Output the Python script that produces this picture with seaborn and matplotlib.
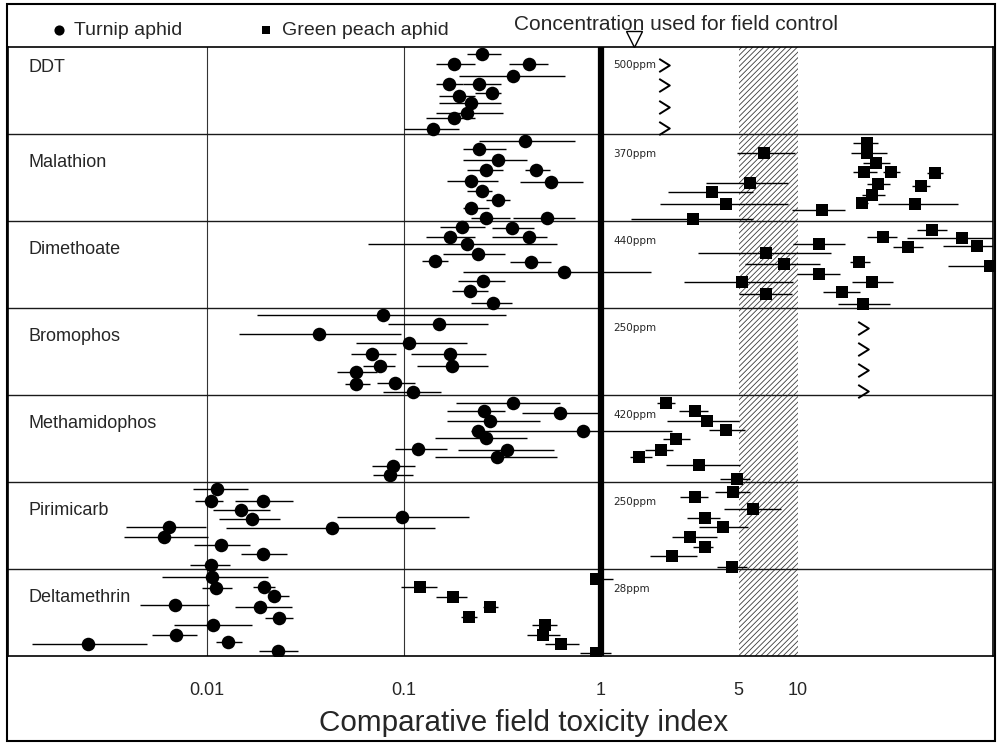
import numpy as np
import pandas as pd
import matplotlib
matplotlib.use("Agg")
import matplotlib.pyplot as plt
import matplotlib.transforms as mtransforms
from matplotlib.path import Path
from matplotlib.patches import Rectangle
import seaborn as sns

sns.set_style("white")
NARROW = ["Liberation Sans Narrow", "Liberation Sans", "DejaVu Sans"]
plt.rcParams["font.family"] = NARROW
plt.rcParams["hatch.linewidth"] = 0.6

# ---------------- data ----------------
insecticides = ["DDT", "Malathion", "Dimethoate", "Bromophos",
                "Methamidophos", "Pirimicarb", "Deltamethrin"]
concentrations = ["500ppm", "370ppm", "440ppm", "250ppm", "420ppm", "250ppm", "28ppm"]
x_ticks = [0.01, 0.1, 1, 5, 10]
x_tick_labels = ["0.01", "0.1", "1", "5", "10"]
field_control_index = 1.47
hatch_range = (5, 10)

# Turnip aphid (circles): index, lower, upper limit, row position within band (0 = top, 1 = bottom)
ddt_ta = [0.25, 0.18, 0.43, 0.36, 0.17, 0.24, 0.19, 0.28, 0.22, 0.21, 0.18, 0.14]
ddt_ta_lo = [0.21, 0.145, 0.34, 0.19, 0.145, 0.20, 0.15, 0.23, 0.15, 0.145, 0.13, 0.10]
ddt_ta_hi = [0.31, 0.23, 0.54, 0.66, 0.20, 0.31, 0.23, 0.31, 0.31, 0.32, 0.23, 0.19]
ddt_ta_row = [0.08, 0.195, 0.195, 0.33, 0.425, 0.425, 0.56, 0.53, 0.64, 0.755, 0.82, 0.94]

mal_ta = [0.41, 0.24, 0.30, 0.47, 0.26, 0.22, 0.56, 0.25, 0.30, 0.22, 0.53, 0.26]
mal_ta_lo = [0.24, 0.20, 0.20, 0.41, 0.21, 0.165, 0.39, 0.21, 0.26, 0.20, 0.36, 0.22]
mal_ta_hi = [0.74, 0.33, 0.42, 0.55, 0.32, 0.30, 0.81, 0.28, 0.345, 0.27, 0.74, 0.345]
mal_ta_row = [0.077, 0.176, 0.30, 0.414, 0.414, 0.54, 0.548, 0.652, 0.759, 0.847, 0.962, 0.962]

dim_ta = [0.198, 0.356, 0.171, 0.43, 0.21, 0.237, 0.144, 0.44, 0.65, 0.253, 0.216, 0.284]
dim_ta_lo = [0.152, 0.28, 0.13, 0.28, 0.066, 0.158, 0.123, 0.345, 0.20, 0.188, 0.175, 0.22]
dim_ta_hi = [0.258, 0.46, 0.229, 0.53, 0.60, 0.326, 0.167, 0.56, 1.8, 0.326, 0.268, 0.353]
dim_ta_row = [0.072, 0.084, 0.187, 0.18, 0.264, 0.38, 0.456, 0.475, 0.59, 0.69, 0.805, 0.946]

bro_ta = [0.078, 0.151, 0.037, 0.106, 0.069, 0.171, 0.0755, 0.175, 0.0575, 0.057, 0.090, 0.111]
bro_ta_lo = [0.018, 0.083, 0.0146, 0.057, 0.054, 0.109, 0.062, 0.116, 0.046, 0.050, 0.073, 0.0785]
bro_ta_hi = [0.33, 0.268, 0.097, 0.208, 0.091, 0.26, 0.090, 0.268, 0.073, 0.067, 0.114, 0.155]
bro_ta_row = [0.08, 0.184, 0.302, 0.406, 0.529, 0.532, 0.663, 0.663, 0.732, 0.877, 0.859, 0.962]

met_ta = [0.36, 0.62, 0.256, 0.273, 0.81, 0.237, 0.26, 0.118, 0.335, 0.296, 0.088, 0.085]
met_ta_lo = [0.185, 0.40, 0.165, 0.165, 0.27, 0.22, 0.144, 0.090, 0.188, 0.144, 0.069, 0.070]
met_ta_hi = [0.62, 0.99, 0.326, 0.49, 2.3, 0.273, 0.42, 0.165, 0.58, 0.60, 0.114, 0.111]
met_ta_row = [0.089, 0.203, 0.184, 0.295, 0.41, 0.41, 0.498, 0.62, 0.632, 0.709, 0.813, 0.92]

pir_ta = [0.0113, 0.0105, 0.0193, 0.015, 0.098, 0.017, 0.0064, 0.043, 0.0061, 0.0118, 0.0193, 0.0105]
pir_ta_lo = [0.0085, 0.0087, 0.0139, 0.0108, 0.046, 0.0116, 0.0039, 0.0125, 0.0038, 0.0086, 0.015, 0.0082]
pir_ta_hi = [0.0161, 0.0121, 0.0274, 0.0209, 0.215, 0.0235, 0.0099, 0.144, 0.0102, 0.0165, 0.0254, 0.0131]
pir_ta_row = [0.084, 0.218, 0.218, 0.322, 0.406, 0.425, 0.514, 0.525, 0.636, 0.724, 0.831, 0.954]

del_ta = [0.0106, 0.0111, 0.0195, 0.022, 0.0069, 0.0186, 0.0232, 0.0108, 0.0070, 0.0025, 0.0128, 0.0229]
del_ta_lo = [0.0059, 0.0095, 0.0172, 0.0207, 0.0046, 0.0139, 0.0197, 0.0068, 0.0053, 0.0013, 0.0111, 0.0184]
del_ta_hi = [0.0205, 0.0135, 0.0221, 0.0262, 0.0103, 0.0272, 0.0274, 0.0169, 0.0089, 0.0050, 0.0151, 0.0291]
del_ta_row = [0.095, 0.222, 0.203, 0.31, 0.414, 0.433, 0.56, 0.644, 0.759, 0.862, 0.836, 0.939]

# Green peach aphid (squares)
mal_gpa = [6.7, 22.3, 22.3, 24.8, 21.7, 29.6, 49.6, 5.7, 25.6, 42.0, 3.65, 23.8, 4.3, 21.1, 39.3, 13.3, 2.94]
mal_gpa_lo = [4.9, 19.0, 18.5, 21.4, 19.0, 27.0, 45.2, 3.4, 22.3, 37.8, 2.19, 21.1, 2.0, 19.9, 25.6, 9.3, 1.43]
mal_gpa_hi = [9.7, 25.5, 28.2, 29.3, 25.2, 33.0, 54.5, 8.9, 29.3, 46.8, 5.9, 27.7, 8.9, 22.7, 65.0, 17.3, 5.9]
mal_gpa_row = [0.222, 0.10, 0.222, 0.337, 0.44, 0.44, 0.452, 0.56, 0.575, 0.594, 0.667, 0.70, 0.805, 0.79, 0.808, 0.877, 0.977]

dim_gpa = [47.7, 27.1, 67.8, 36.3, 80.7, 12.8, 6.9, 20.4, 8.5, 94.0, 12.8, 5.2, 23.8, 16.7, 6.9, 21.5]
dim_gpa_lo = [40.0, 22.3, 35.7, 30.4, 54.5, 9.4, 3.1, 18.4, 5.4, 58.0, 9.85, 2.64, 18.7, 13.4, 5.0, 16.0]
dim_gpa_hi = [57.0, 31.7, 100, 43.1, 100, 17.3, 14.8, 23.2, 12.9, 100, 16.3, 9.4, 30.5, 20.6, 9.3, 29.3]
dim_gpa_row = [0.103, 0.18, 0.199, 0.302, 0.287, 0.264, 0.371, 0.475, 0.494, 0.517, 0.609, 0.697, 0.705, 0.813, 0.839, 0.954]

met_gpa = [2.13, 3.0, 3.47, 4.3, 2.4, 2.02, 1.57, 3.16, 4.9]
met_gpa_lo = [1.92, 2.49, 2.16, 3.53, 2.06, 1.67, 1.40, 2.13, 4.0]
met_gpa_hi = [2.38, 3.5, 5.0, 5.4, 2.83, 2.32, 1.81, 5.1, 5.7]
met_gpa_row = [0.095, 0.18, 0.299, 0.402, 0.506, 0.632, 0.716, 0.805, 0.971]

pir_gpa = [4.7, 3.0, 5.9, 3.37, 4.18, 2.83, 3.37, 2.3, 4.64]
pir_gpa_lo = [3.8, 2.52, 4.2, 2.74, 3.16, 2.29, 2.94, 1.77, 3.89]
pir_gpa_hi = [5.7, 3.5, 8.2, 4.0, 5.6, 3.9, 3.72, 3.06, 5.5]
pir_gpa_row = [0.111, 0.176, 0.314, 0.41, 0.514, 0.636, 0.744, 0.851, 0.974]

del_gpa = [0.94, 0.121, 0.177, 0.273, 0.215, 0.52, 0.51, 0.63, 0.95]
del_gpa_lo = [0.90, 0.097, 0.145, 0.252, 0.196, 0.445, 0.42, 0.52, 0.78]
del_gpa_hi = [1.15, 0.147, 0.208, 0.30, 0.234, 0.60, 0.62, 0.77, 1.13]
del_gpa_row = [0.115, 0.21, 0.318, 0.433, 0.548, 0.644, 0.759, 0.862, 0.962]

# Green peach aphid "greater than" results (DDT, Bromophos)
ddt_gpa_gt = 2.1
ddt_gpa_gt_row = [0.21, 0.44, 0.69, 0.93]
bro_gpa_gt = 21.4
bro_gpa_gt_row = [0.233, 0.475, 0.713, 0.951]

# ---------------- long table ----------------
series = [
    ("DDT", "Turnip aphid", ddt_ta, ddt_ta_lo, ddt_ta_hi, ddt_ta_row),
    ("Malathion", "Turnip aphid", mal_ta, mal_ta_lo, mal_ta_hi, mal_ta_row),
    ("Dimethoate", "Turnip aphid", dim_ta, dim_ta_lo, dim_ta_hi, dim_ta_row),
    ("Bromophos", "Turnip aphid", bro_ta, bro_ta_lo, bro_ta_hi, bro_ta_row),
    ("Methamidophos", "Turnip aphid", met_ta, met_ta_lo, met_ta_hi, met_ta_row),
    ("Pirimicarb", "Turnip aphid", pir_ta, pir_ta_lo, pir_ta_hi, pir_ta_row),
    ("Deltamethrin", "Turnip aphid", del_ta, del_ta_lo, del_ta_hi, del_ta_row),
    ("Malathion", "Green peach aphid", mal_gpa, mal_gpa_lo, mal_gpa_hi, mal_gpa_row),
    ("Dimethoate", "Green peach aphid", dim_gpa, dim_gpa_lo, dim_gpa_hi, dim_gpa_row),
    ("Methamidophos", "Green peach aphid", met_gpa, met_gpa_lo, met_gpa_hi, met_gpa_row),
    ("Pirimicarb", "Green peach aphid", pir_gpa, pir_gpa_lo, pir_gpa_hi, pir_gpa_row),
    ("Deltamethrin", "Green peach aphid", del_gpa, del_gpa_lo, del_gpa_hi, del_gpa_row),
]
frames = []
for ins, aph, c, lo, hi, row in series:
    band = insecticides.index(ins)
    frames.append(pd.DataFrame({"Insecticide": ins, "Aphid": aph, "index": c,
                                "lo": lo, "hi": hi, "y": band + np.asarray(row)}))
df = pd.concat(frames, ignore_index=True)

# ---------------- figure ----------------
W, H = 997, 745
fig = plt.figure(figsize=(W / 100, H / 100), dpi=100)
ax = fig.add_axes([8 / W, 1 - 656 / H, 985 / W, 609 / H])
ax.set_xscale("log")
ax.set_xlim(0.00098, 97.7)
ax.set_ylim(len(insecticides), 0)

# hatched band and reference lines
ax.axvspan(*hatch_range, facecolor="none", edgecolor="#3a3a3a", hatch="//////",
           linewidth=0, zorder=0)
for g in (0.01, 0.1):
    ax.axvline(g, color="#333333", lw=0.8, zorder=0.5)
for b in range(1, len(insecticides)):
    ax.axhline(b, color="#1a1a1a", lw=1.0, zorder=0.5)
ax.axvline(1, color="black", lw=4.5, zorder=1.5)

# error bars
ax.hlines(df["y"], df["lo"], df["hi"], colors="black", lw=1.0, zorder=2)

ta = df[df["Aphid"] == "Turnip aphid"]
gpa = df[df["Aphid"] == "Green peach aphid"]
sns.scatterplot(data=ta, x="index", y="y", marker="o", s=95, color="black",
                edgecolor="black", linewidth=0, ax=ax, label="Turnip aphid", zorder=3)
sns.scatterplot(data=gpa, x="index", y="y", marker="s", s=68, color="black",
                edgecolor="black", linewidth=0, ax=ax, label="Green peach aphid", zorder=3)
ax.set_ylim(len(insecticides), 0)
ax.set_xlim(0.00098, 97.7)

# "greater than" chevrons
chevron = Path([(-0.4, 0.5), (0.4, 0.0), (-0.4, -0.5)],
               [Path.MOVETO, Path.LINETO, Path.LINETO])
for ins, val, rows in (("DDT", ddt_gpa_gt, ddt_gpa_gt_row),
                       ("Bromophos", bro_gpa_gt, bro_gpa_gt_row)):
    band = insecticides.index(ins)
    ax.plot([val] * len(rows), band + np.asarray(rows), ls="none", marker=chevron,
            ms=9.5, mfc="none", mec="black", mew=1.4, zorder=3)

# concentration labels
for i, conc in enumerate(concentrations):
    off = 0.21 if i == 0 else 0.23
    ax.text(1.16, i + off, conc, fontsize=7.5, ha="left", va="center",
            family=["DejaVu Sans"])

# insecticide names
ytrans = mtransforms.blended_transform_factory(ax.transAxes, ax.transData)
for i, name in enumerate(insecticides):
    off = 0.24 if i == 0 else 0.33
    ax.text(20 / 985, i + off, name, transform=ytrans, fontsize=13,
            ha="left", va="center")

# axis
ax.set_xticks(x_ticks)
ax.set_xticklabels(x_tick_labels)
ax.xaxis.set_minor_locator(matplotlib.ticker.NullLocator())
ax.tick_params(axis="x", length=0, pad=19, labelsize=13)
ax.set_yticks([])
ax.set_xlabel("")
ax.set_ylabel("")
for sp in ax.spines.values():
    sp.set_color("black")
    sp.set_linewidth(1.2)
fig.text(524 / W, 1 - 731 / H, "Comparative field toxicity index", ha="center",
         va="baseline", fontsize=21.3)

# header: legend, field control marker
ax.legend(loc="center left", bbox_to_anchor=(43 / 985, (656 - 30) / 609), ncol=2,
          frameon=False, handletextpad=0.4, columnspacing=3.9, borderpad=0,
          borderaxespad=0, handlelength=0.8, fontsize=14, markerscale=0.75)
fig.text(676 / W, 1 - 24 / H, "Concentration used for field control", ha="center",
         va="center", fontsize=15)
xtrans = mtransforms.blended_transform_factory(ax.transData, ax.transAxes)
ax.plot([field_control_index], [(656 - 39) / 609], transform=xtrans, marker="v",
        ms=11, mfc="white", mec="black", mew=1.0, clip_on=False, zorder=4)

# outer frame
fig.patches.append(Rectangle((7 / W, 1 - 741 / H), 988 / W, 737 / H, fill=False,
                             lw=1.5, ec="black", transform=fig.transFigure))

fig.savefig("out.png", dpi=100, facecolor="white")
